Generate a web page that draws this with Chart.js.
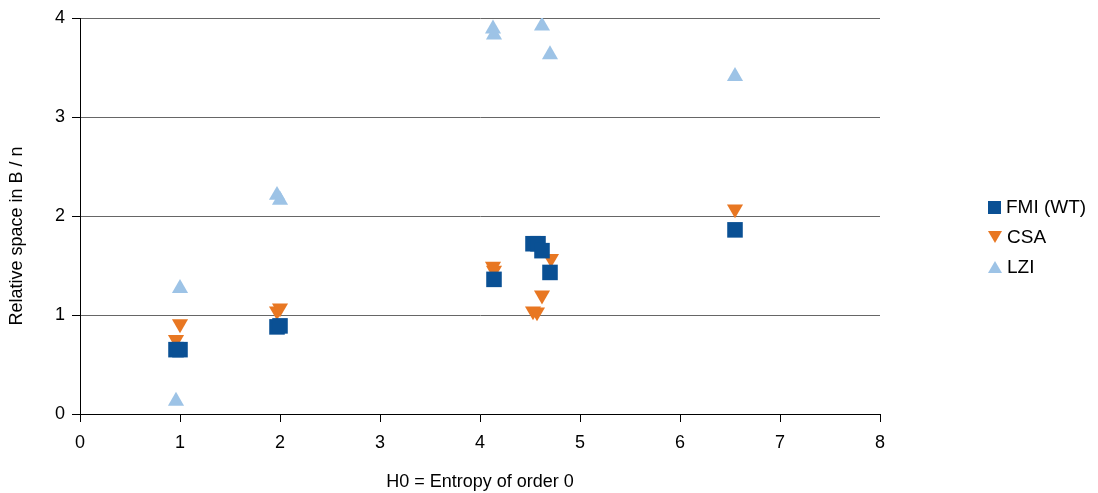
<!DOCTYPE html>
<html>
<head>
<meta charset="utf-8">
<script src="https://cdn.jsdelivr.net/npm/chart.js@4.4.1/dist/chart.umd.min.js"></script>
<style>
  html, body { margin:0; padding:0; background:#fff; }
  #wrap { position:relative; width:1098px; height:493px; }
  #legend { position:absolute; left:988px; top:192px; font-family:"Liberation Sans", Arial, sans-serif; font-size:19px; color:#000; }
  #legend .item { height:30px; display:flex; align-items:center; }
  #legend .mk { margin-right:5px; }
  .sq { display:inline-block; background:#0a5094; width:13px; height:13px; }
  .tdown { display:inline-block; width:0; height:0; border-left:7px solid transparent; border-right:7px solid transparent; border-top:12px solid #e87722; }
  .tup { display:inline-block; width:0; height:0; border-left:7px solid transparent; border-right:7px solid transparent; border-bottom:12px solid #9dc3e6; }
</style>
</head>
<body>
<div id="wrap">
  <canvas id="chart" width="1098" height="493"></canvas>
  <div id="legend"></div>
</div>
<script>
// data
const fmiX = [0.96, 1.00, 1.97, 2.00, 4.14, 4.53, 4.58, 4.62, 4.70, 6.55];
const fmiY = [0.65, 0.65, 0.88, 0.89, 1.36, 1.72, 1.72, 1.65, 1.43, 1.86];

const csaX = [0.96, 1.00, 1.97, 2.00, 4.13, 4.14, 4.53, 4.57, 4.62, 4.71, 6.55];
const csaY = [0.75, 0.91, 1.04, 1.07, 1.49, 1.45, 1.04, 1.03, 1.20, 1.57, 2.07];

const lziX = [0.96, 1.00, 1.97, 2.00, 4.13, 4.14, 4.62, 4.70, 6.55];
const lziY = [0.13, 1.27, 2.21, 2.16, 3.89, 3.83, 3.92, 3.63, 3.41];

const seriesNames = ["FMI (WT)", "CSA", "LZI"];
const seriesColors = ["#0a5094", "#e87722", "#9dc3e6"];

const xTicks = [0, 1, 2, 3, 4, 5, 6, 7, 8];
const yTicks = [0, 1, 2, 3, 4];
const yTitle = "Relative space in B / n";

function pts(xs, ys){ return xs.map((x, i) => ({ x, y: ys[i] })); }

const font = "'Liberation Sans', Arial, sans-serif";

// y title sits a bit below the axis middle in the original, so draw it here
const yTitlePlugin = {
  id: "yTitle",
  afterDraw(chart){
    const ctx = chart.ctx;
    ctx.save();
    ctx.translate(17, 236);
    ctx.rotate(-Math.PI / 2);
    ctx.font = "18px " + font;
    ctx.fillStyle = "#000";
    ctx.textAlign = "center";
    ctx.textBaseline = "middle";
    ctx.fillText(yTitle, 0, 0);
    ctx.restore();
  }
};

new Chart(document.getElementById("chart"), {
  type: "scatter",
  data: {
    datasets: [
      { label: seriesNames[0], data: pts(fmiX, fmiY), pointStyle: "rect", pointRadius: 11, pointHoverRadius: 11,
        backgroundColor: seriesColors[0], borderColor: seriesColors[0], borderWidth: 0 },
      { label: seriesNames[1], data: pts(csaX, csaY), pointStyle: "triangle", rotation: 180, pointRadius: 9.3, pointHoverRadius: 9.3,
        backgroundColor: seriesColors[1], borderColor: seriesColors[1], borderWidth: 0 },
      { label: seriesNames[2], data: pts(lziX, lziY), pointStyle: "triangle", pointRadius: 9.3, pointHoverRadius: 9.3,
        backgroundColor: seriesColors[2], borderColor: seriesColors[2], borderWidth: 0 }
    ]
  },
  options: {
    responsive: false,
    animation: false,
    layout: { padding: { top: 18, right: 218, left: 0, bottom: 0 } },
    plugins: { legend: { display: false }, tooltip: { enabled: false } },
    scales: {
      x: {
        type: "linear", min: 0, max: 8,
        afterFit: s => { s.height = 79; },
        afterBuildTicks: s => { s.ticks = xTicks.map(v => ({ value: v })); },
        grid: { drawOnChartArea: false, drawTicks: true, tickLength: 8, tickColor: "#000" },
        border: { color: "#000", width: 1 },
        ticks: { color: "#000", font: { family: font, size: 18 }, padding: 10 },
        title: { display: true, text: "H0 = Entropy of order 0", color: "#000", font: { family: font, size: 18 }, padding: { top: 0, bottom: 0 } }
      },
      y: {
        type: "linear", min: 0, max: 4,
        afterFit: s => { s.width = 80; },
        afterBuildTicks: s => { s.ticks = yTicks.map(v => ({ value: v })); },
        grid: { color: "#666", lineWidth: 1, tickLength: 8, tickColor: "#000" },
        border: { color: "#000", width: 1 },
        ticks: { color: "#000", font: { family: font, size: 18 }, padding: 7 },
        title: { display: false }
      }
    }
  },
  plugins: [yTitlePlugin]
});

// legend
const lg = document.getElementById("legend");
const cls = ["sq", "tdown", "tup"];
seriesNames.forEach((n, i) => {
  const d = document.createElement("div");
  d.className = "item";
  d.innerHTML = `<span class="mk ${cls[i]}"></span><span>${n}</span>`;
  lg.appendChild(d);
});
</script>
</body>
</html>
